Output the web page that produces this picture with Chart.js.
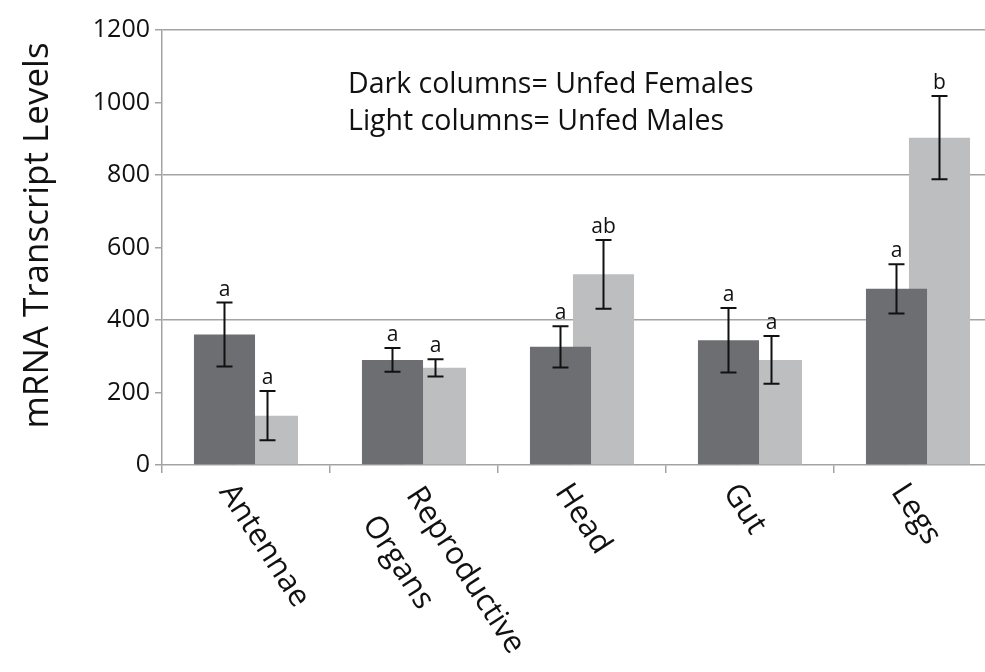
<!DOCTYPE html>
<html>
<head>
<meta charset="utf-8">
<title>mRNA Transcript Levels</title>
<script src="https://cdn.jsdelivr.net/npm/chart.js@4/dist/chart.umd.min.js"></script>
<style>
    html, body { margin: 0; padding: 0; background: #fff; overflow: hidden; }
    #wrap { width: 985px; height: 672px; overflow: hidden; }
    canvas { display: block; }
</style>
</head>
<body>
<div id="wrap"><canvas id="chart" width="1010" height="672"></canvas></div>
<script>
// Data
const categories = [['Antennae'], ['Reproductive', 'Organs'], ['Head'], ['Gut'], ['Legs']];
const females = [360, 290, 326, 344, 486];
const femaleErr = [88, 33, 57, 89, 68];
const males = [136, 268, 526, 290, 903];
const maleErr = [68, 24, 95, 66, 115];
const femaleLetters = ['a', 'a', 'a', 'a', 'a'];
const maleLetters = ['a', 'a', 'ab', 'a', 'b'];
const yTicks = [0, 200, 400, 600, 800, 1000, 1200];
const yTitle = 'mRNA Transcript Levels';
const noteLines = ['Dark columns= Unfed Females', 'Light columns= Unfed Males'];

const DARK = '#6d6e71';
const LIGHT = '#bcbec0';
const AXIS = '#a3a3a3';
const FONT = "'Open Sans', sans-serif";
const LABEL_ANGLE = 57 * Math.PI / 180;

/**
 * Error bars and significance letters on top of each bar
 */
const errorBars = {
    id: 'errorBars',
    afterDatasetsDraw(chart) {
        const ctx = chart.ctx;
        const y = chart.scales.y;
        const sets = [
            { err: femaleErr, letters: femaleLetters },
            { err: maleErr, letters: maleLetters }
        ];
        ctx.save();
        ctx.strokeStyle = '#111';
        ctx.lineWidth = 2;
        ctx.fillStyle = '#111';
        ctx.font = '21px ' + FONT;
        ctx.textAlign = 'center';
        ctx.textBaseline = 'alphabetic';
        sets.forEach((s, d) => {
            const meta = chart.getDatasetMeta(d);
            const values = chart.data.datasets[d].data;
            meta.data.forEach((bar, i) => {
                const top = y.getPixelForValue(values[i] + s.err[i]);
                const bot = y.getPixelForValue(values[i] - s.err[i]);
                const cap = 8;
                ctx.beginPath();
                ctx.moveTo(bar.x, top);
                ctx.lineTo(bar.x, bot);
                ctx.moveTo(bar.x - cap, top);
                ctx.lineTo(bar.x + cap, top);
                ctx.moveTo(bar.x - cap, bot);
                ctx.lineTo(bar.x + cap, bot);
                ctx.stroke();
                ctx.fillText(s.letters[i], bar.x, top - 7);
            });
        });
        ctx.restore();
    }
};

/**
 * Rotated category labels, y title and the note text
 */
const extraText = {
    id: 'extraText',
    afterDraw(chart) {
        const ctx = chart.ctx;
        const x = chart.scales.x;
        const area = chart.chartArea;
        const up = { x: Math.sin(LABEL_ANGLE), y: -Math.cos(LABEL_ANGLE) };
        const along = { x: Math.cos(LABEL_ANGLE), y: Math.sin(LABEL_ANGLE) };
        // two-line labels sit a little further along and are spread wider apart
        const multiUp = [14, -38];
        const multiAlong = 13;
        ctx.save();
        ctx.fillStyle = '#111';
        ctx.font = '31px ' + FONT;
        ctx.textAlign = 'left';
        ctx.textBaseline = 'middle';
        categories.forEach((lines, i) => {
            const qx = x.getPixelForValue(i) - 20;
            const qy = area.bottom + 22;
            lines.forEach((line, k) => {
                const u = lines.length > 1 ? multiUp[k] : 0;
                const a = lines.length > 1 ? multiAlong : 0;
                ctx.save();
                ctx.translate(qx + up.x * u + along.x * a, qy + up.y * u + along.y * a);
                ctx.rotate(LABEL_ANGLE);
                ctx.fillText(line, 0, 0);
                ctx.restore();
            });
        });

        // y axis title, sitting a bit above the middle of the plot
        ctx.save();
        ctx.font = '35px ' + FONT;
        ctx.textAlign = 'center';
        ctx.translate(38, (area.top + area.bottom) / 2 - 12);
        ctx.rotate(-Math.PI / 2);
        ctx.fillText(yTitle, 0, 0);
        ctx.restore();

        ctx.font = '28.5px ' + FONT;
        ctx.textAlign = 'left';
        ctx.textBaseline = 'alphabetic';
        noteLines.forEach((line, k) => {
            ctx.fillText(line, area.left + 186, area.top + 63 + k * 37);
        });
        ctx.restore();
    }
};

new Chart(document.getElementById('chart'), {
    type: 'bar',
    data: {
        labels: categories.map(c => c.join(' ')),
        datasets: [
            {
                label: 'Unfed Females',
                data: females,
                backgroundColor: DARK,
                categoryPercentage: 0.512,
                barPercentage: 1.42
            },
            {
                label: 'Unfed Males',
                data: males,
                backgroundColor: LIGHT,
                categoryPercentage: 0.512,
                barPercentage: 1.42
            }
        ]
    },
    options: {
        responsive: false,
        animation: false,
        layout: {
            padding: { top: 30, right: 8, bottom: 199, left: 0 }
        },
        plugins: {
            legend: { display: false },
            tooltip: { enabled: false }
        },
        scales: {
            x: {
                grid: {
                    drawOnChartArea: false,
                    drawTicks: true,
                    tickLength: 8,
                    tickColor: AXIS,
                    lineWidth: 1.5
                },
                border: { color: AXIS, width: 1.5 },
                ticks: { display: false }
            },
            y: {
                min: 0,
                max: 1200,
                afterBuildTicks: scale => {
                    scale.ticks = yTicks.map(v => ({ value: v }));
                },
                afterFit: scale => {
                    scale.width = 162;
                },
                grid: {
                    color: ctx => (ctx.tick && ctx.tick.value > 0 && ctx.tick.value % 400 === 0) ? AXIS : 'rgba(0,0,0,0)',
                    tickColor: AXIS,
                    lineWidth: 1.5,
                    tickLength: 7
                },
                border: { color: AXIS, width: 1.5 },
                ticks: {
                    color: '#111',
                    padding: 5,
                    font: { family: FONT, size: 25 },
                    callback: v => String(v)
                }
            }
        }
    },
    plugins: [errorBars, extraText]
});
</script>
</body>
</html>
